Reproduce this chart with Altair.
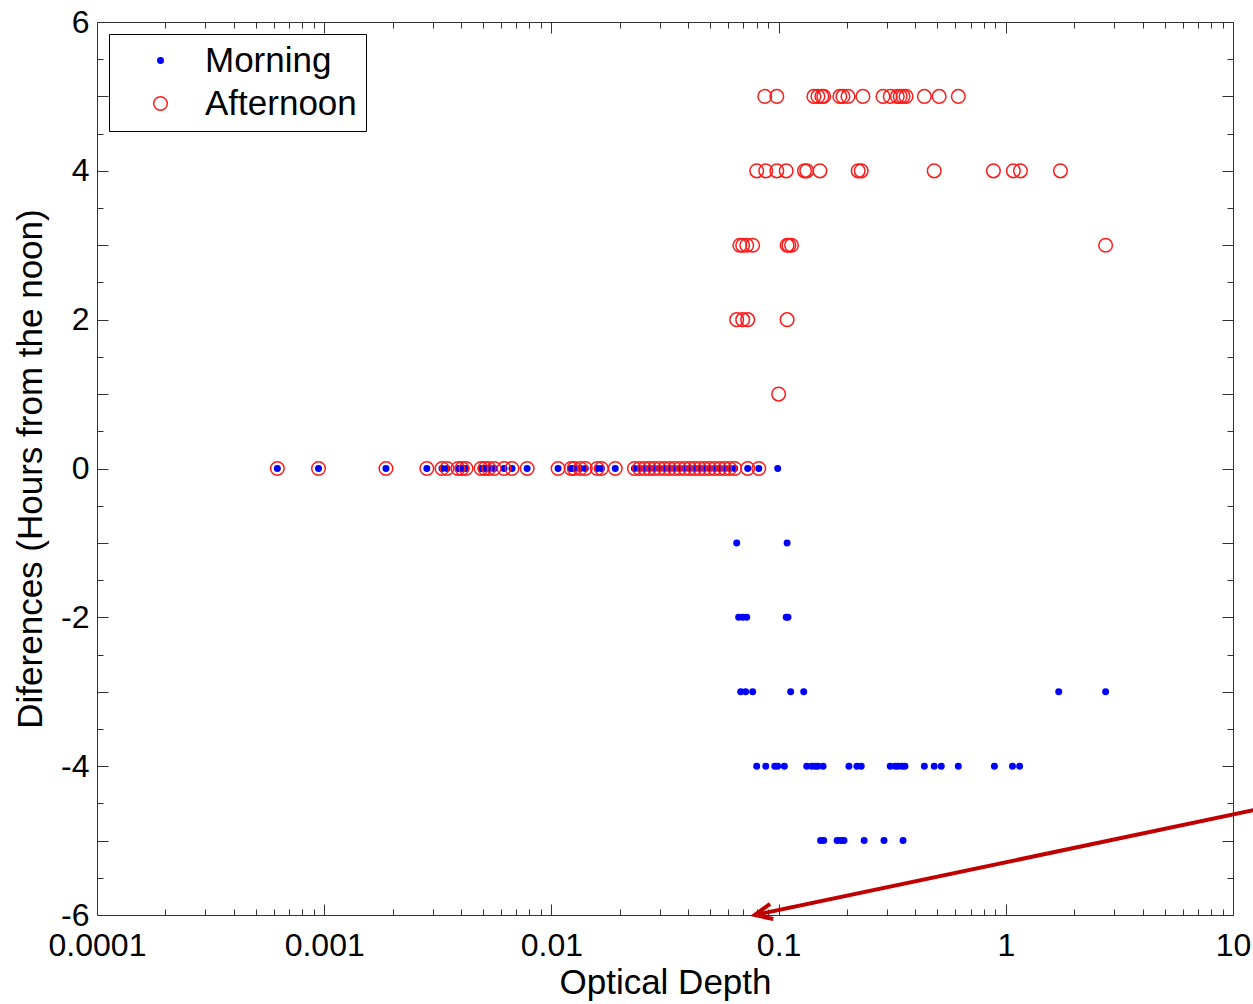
import altair as alt
import pandas as pd

FONT = "Liberation Sans"

# ---- data (optical depth values per hour-difference level) ----
shared_zero = [0.000622, 0.000944, 0.00187, 0.00283, 0.00330, 0.00347, 0.00388, 0.00404,
               0.00421, 0.00490, 0.00510, 0.00531, 0.00560, 0.00619, 0.00671, 0.00782,
               0.0107, 0.0122, 0.0126, 0.0134, 0.0141, 0.0159, 0.0166, 0.0191,
               0.0232, 0.0244, 0.0257, 0.0270, 0.0284, 0.0299, 0.0315, 0.0331,
               0.0348, 0.0366, 0.0386, 0.0406, 0.0427, 0.0449, 0.0472, 0.0497,
               0.0523, 0.0550, 0.0579, 0.0609, 0.0641, 0.0731, 0.0818]
morning_zero_extra = [0.0991]
morning_m1 = [0.0654, 0.109]
morning_m2 = [0.0667, 0.0695, 0.0724, 0.108, 0.110]
morning_m3 = [0.0681, 0.0716, 0.0769, 0.113, 0.129, 1.71, 2.75]
morning_m4 = [0.0801, 0.0878, 0.0962, 0.0991, 0.106, 0.133, 0.140, 0.145, 0.149, 0.157,
              0.204, 0.221, 0.231, 0.310, 0.326, 0.336, 0.350, 0.360, 0.438, 0.484,
              0.520, 0.618, 0.891, 1.07, 1.15]
morning_m5 = [0.153, 0.158, 0.181, 0.188, 0.194, 0.238, 0.291, 0.353]

afternoon_1 = [0.100]
afternoon_2 = [0.0654, 0.0695, 0.0731, 0.109]
afternoon_3 = [0.0675, 0.0695, 0.0724, 0.0769, 0.109, 0.111, 0.114, 2.75]
afternoon_4 = [0.0801, 0.0878, 0.0982, 0.108, 0.130, 0.133, 0.152, 0.224, 0.231, 0.484,
               0.882, 1.08, 1.16, 1.74]
afternoon_5 = [0.0869, 0.0982, 0.143, 0.149, 0.155, 0.158, 0.186, 0.192, 0.202, 0.235,
               0.288, 0.310, 0.333, 0.343, 0.353, 0.364, 0.438, 0.509, 0.618]

SERIES = ["Morning", "Afternoon"]

# annotation arrow (tail, tip) in data units
arrow_x = [12.4, 0.0785]
arrow_y = [-4.59, -6.0]

# axis ticks / labels
X_MAJOR = [0.0001, 0.001, 0.01, 0.1, 1, 10]
X_MINOR = [m * d for d in [0.0001, 0.001, 0.01, 0.1, 1] for m in range(2, 10)]
Y_LABELS = [-6, -4, -2, 0, 2, 4, 6]
Y_MAJOR = [-6, -5, -4, -3, -2, -1, 0, 1, 2, 3, 4, 5, 6]
Y_MINOR = [-5.5, -4.5, -3.5, -2.5, -1.5, -0.5, 0.5, 1.5, 2.5, 3.5, 4.5, 5.5]

rows = []
for d in shared_zero + morning_zero_extra:
    rows.append(("Morning", d, 0))
for lvl, vals in [(-1, morning_m1), (-2, morning_m2), (-3, morning_m3), (-4, morning_m4), (-5, morning_m5)]:
    for d in vals:
        rows.append(("Morning", d, lvl))
for d in shared_zero:
    rows.append(("Afternoon", d, 0))
for lvl, vals in [(1, afternoon_1), (2, afternoon_2), (3, afternoon_3), (4, afternoon_4), (5, afternoon_5)]:
    for d in vals:
        rows.append(("Afternoon", d, lvl))
df = pd.DataFrame(rows, columns=["series", "depth", "diff"])

shaft = pd.DataFrame({"x": [arrow_x[0]], "y": [arrow_y[0]], "x2": [arrow_x[1]], "y2": [arrow_y[1]]})
tip = pd.DataFrame({"x": [arrow_x[1]], "y": [arrow_y[1]]})

xscale = alt.Scale(type="log", domain=[0.0001, 10], nice=False)
yscale = alt.Scale(domain=[-6, 6], nice=False, zero=False)


def tick_axis(orient, values, size):
    return alt.Axis(orient=orient, values=values, ticks=True, tickSize=size, tickColor="#333",
                    tickWidth=1, offset=-size, labels=False, domain=False, grid=False, title=None)


x_label_axis = alt.Axis(orient="bottom", values=X_MAJOR, labelExpr="'' + datum.value",
                        ticks=False, tickSize=0, domain=False, grid=False,
                        labelFont=FONT, labelFontSize=32, labelColor="black",
                        labelPadding=40, labelBaseline="alphabetic", labelFlush=False,
                        labelOverlap=False, labelBound=False,
                        title="Optical Depth", titleFont=FONT, titleFontSize=35,
                        titleFontWeight="normal", titleColor="black",
                        titleBaseline="alphabetic", titleY=78)
y_label_axis = alt.Axis(orient="left", values=Y_LABELS, labelExpr="'' + datum.value",
                        ticks=False, tickSize=0, domain=False, grid=False,
                        labelFont=FONT, labelFontSize=32, labelColor="black",
                        labelPadding=8, labelOverlap=False, labelBound=False, labelFlush=False,
                        title="Diferences (Hours from the noon)", titleFont=FONT,
                        titleFontSize=35, titleFontWeight="normal", titleColor="black",
                        titleBaseline="alphabetic", titleX=-56)

points = alt.Chart(df).mark_point(shape="circle", strokeWidth=1.5, opacity=1).encode(
    x=alt.X("depth:Q", scale=xscale, axis=x_label_axis),
    y=alt.Y("diff:Q", scale=yscale, axis=y_label_axis),
    fill=alt.Fill("series:N", scale=alt.Scale(domain=SERIES, range=["#0000ff", "transparent"]),
                  legend=alt.Legend(title=None)),
    stroke=alt.Stroke("series:N", scale=alt.Scale(domain=SERIES, range=["#0000ff", "#ff1a1a"]),
                      legend=alt.Legend(title=None)),
    size=alt.Size("series:N", scale=alt.Scale(domain=SERIES, range=[30, 185]),
                  legend=alt.Legend(title=None)),
)

shaft_layer = alt.Chart(shaft).mark_rule(color="#c00000", strokeWidth=4).encode(
    x=alt.X("x:Q", scale=xscale, axis=tick_axis("bottom", X_MAJOR, 11)),
    y=alt.Y("y:Q", scale=yscale, axis=tick_axis("left", Y_MAJOR, 11)),
    x2="x2:Q",
    y2="y2:Q",
)

head_layer = alt.Chart(tip).mark_point(shape="M 1 -0.45 L 0 0 L 1 0.45", angle=348, size=1200,
                                       filled=False, color="#c00000", strokeWidth=4,
                                       opacity=1).encode(
    x=alt.X("x:Q", scale=xscale, axis=tick_axis("bottom", X_MINOR, 6)),
    y=alt.Y("y:Q", scale=yscale, axis=tick_axis("left", Y_MINOR, 6)),
)

ghost1 = alt.Chart(tip).mark_point(opacity=0).encode(
    x=alt.X("x:Q", scale=xscale, axis=tick_axis("top", X_MAJOR, 11)),
    y=alt.Y("y:Q", scale=yscale, axis=tick_axis("right", Y_MAJOR, 11)),
)
ghost2 = alt.Chart(tip).mark_point(opacity=0).encode(
    x=alt.X("x:Q", scale=xscale, axis=tick_axis("top", X_MINOR, 6)),
    y=alt.Y("y:Q", scale=yscale, axis=tick_axis("right", Y_MINOR, 6)),
)

chart = alt.layer(points, shaft_layer, head_layer, ghost1, ghost2).resolve_axis(
    x="independent", y="independent"
).properties(
    width=1136,
    height=893,
    autosize=alt.AutoSizeParams(type="none"),
    padding={"left": 97, "top": 22, "right": 20, "bottom": 89},
    background="white",
).configure_view(
    stroke="#333", strokeWidth=1
).configure_legend(
    orient="none", legendX=12, legendY=12,
    strokeColor="black", padding=9, fillColor="white",
    labelFont=FONT, labelFontSize=35, labelColor="black",
    symbolOffset=25, labelOffset=27, rowPadding=7,
    symbolStrokeWidth=1.5, symbolType="circle",
)

chart.save("out.html", embed_options={"renderer": "svg", "actions": False})
